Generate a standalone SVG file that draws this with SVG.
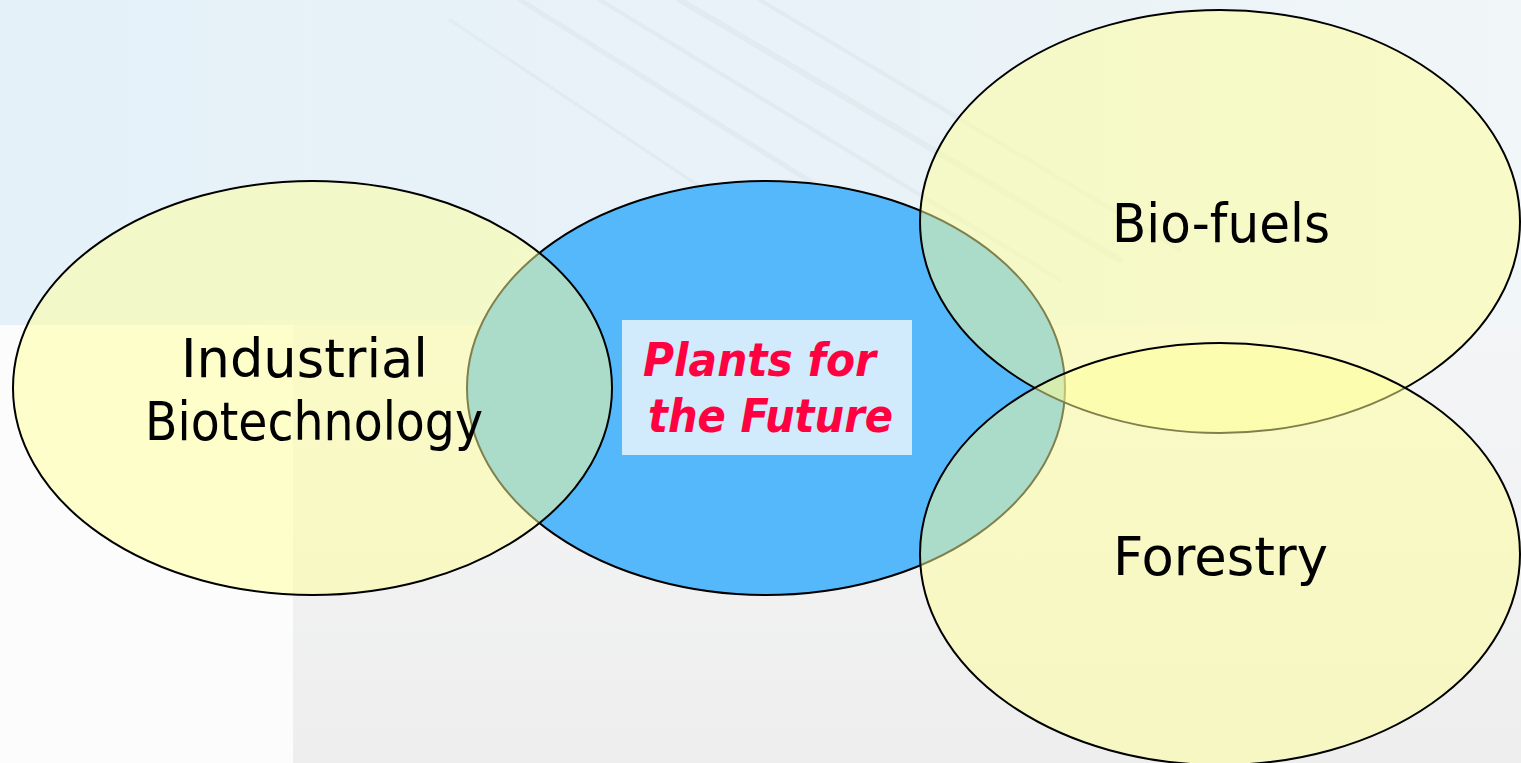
<svg xmlns="http://www.w3.org/2000/svg" width="1521" height="763" viewBox="0 0 1521 763">
<style>
.ring{stroke:#000;stroke-width:2}
.yel{fill:#ffff98;fill-opacity:0.5}
.lbl{font-family:"DejaVu Sans","Liberation Sans",sans-serif;font-size:54px;fill:#000;text-anchor:start}
.red{font-family:"DejaVu Sans","Liberation Sans",sans-serif;font-size:46px;font-weight:bold;font-style:italic;fill:#ff0040}
</style>
<defs>
<linearGradient id="sky" x1="0" y1="0" x2="1" y2="0">
<stop offset="0" stop-color="#e5f1f9"/>
<stop offset="0.6" stop-color="#e9f2f7"/>
<stop offset="1" stop-color="#f1f6f8"/>
</linearGradient>
<linearGradient id="floor" x1="0" y1="0" x2="0" y2="1">
<stop offset="0" stop-color="#f4f5f7"/>
<stop offset="1" stop-color="#eeeeee"/>
</linearGradient>
</defs>
<g id="background">
<rect x="0" y="0" width="1521" height="763" fill="#f1f2f4"/>
<rect x="0" y="0" width="1521" height="325" fill="url(#sky)"/>
<rect x="0" y="325" width="293" height="438" fill="#fcfcfc"/>
<rect x="293" y="325" width="1228" height="438" fill="url(#floor)"/>
<g stroke="#cfdada" stroke-linecap="round" fill="none" opacity="0.25">
<line x1="520" y1="0" x2="1000" y2="300" stroke-width="5"/>
<line x1="600" y1="0" x2="1060" y2="280" stroke-width="4"/>
<line x1="680" y1="0" x2="1120" y2="260" stroke-width="6"/>
<line x1="760" y1="0" x2="1180" y2="250" stroke-width="4"/>
<line x1="450" y1="20" x2="900" y2="320" stroke-width="3"/>
</g>
</g>
<g id="connectors"/>
<g id="node-plants">
<ellipse class="ring" cx="766" cy="388" rx="299" ry="207" fill="#55b8fa"/>
<rect x="622" y="320" width="290" height="135" fill="#d1eafc"/>
<text class="red" x="643" y="376" textLength="233" lengthAdjust="spacingAndGlyphs">Plants for</text>
<text class="red" x="648" y="432" textLength="245" lengthAdjust="spacingAndGlyphs">the Future</text>
</g>
<g id="node-industrial">
<ellipse class="ring yel" cx="312.5" cy="388" rx="299.5" ry="207"/>
<text class="lbl" x="181" y="377" textLength="247" lengthAdjust="spacingAndGlyphs">Industrial</text>
<text class="lbl" x="145" y="440" textLength="338" lengthAdjust="spacingAndGlyphs">Biotechnology</text>
</g>
<g id="node-biofuels">
<ellipse class="ring yel" cx="1220" cy="221.5" rx="300" ry="211.5"/>
<text class="lbl" x="1112" y="242" textLength="218" lengthAdjust="spacingAndGlyphs">Bio-fuels</text>
</g>
<g id="node-forestry">
<ellipse class="ring yel" cx="1220" cy="554" rx="300" ry="211"/>
<text class="lbl" x="1113" y="575" textLength="215" lengthAdjust="spacingAndGlyphs">Forestry</text>
</g>
</svg>
